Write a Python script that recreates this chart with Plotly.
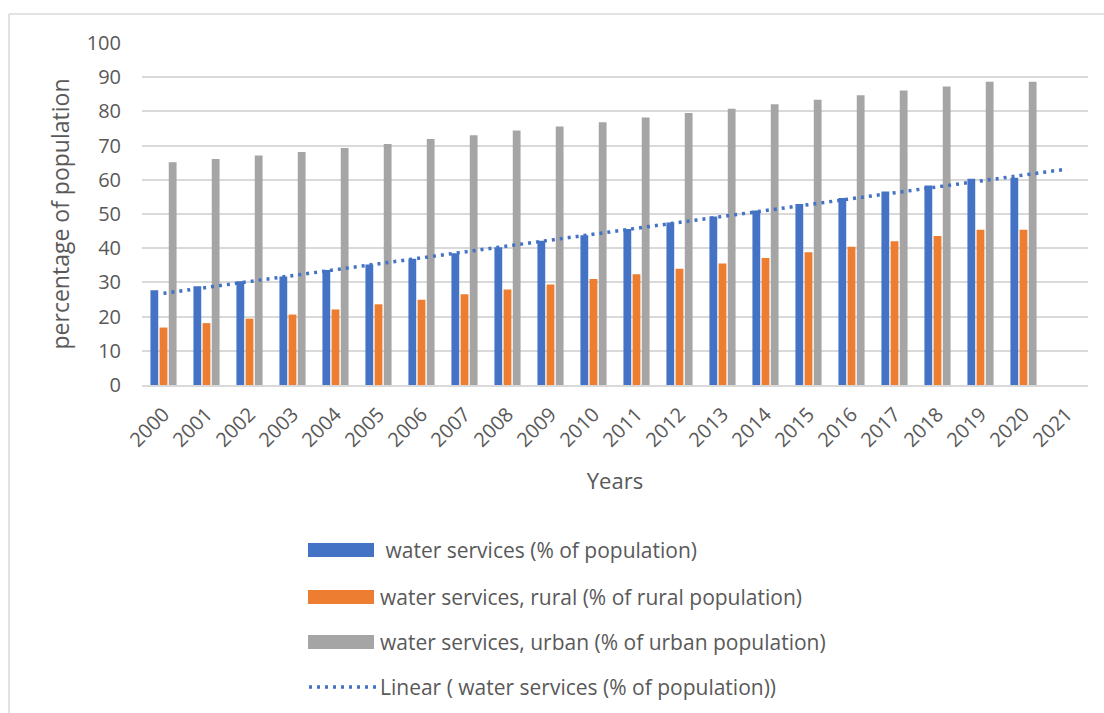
import numpy as np
import plotly.graph_objects as go

years = [str(y) for y in range(2000, 2022)]
total = [27.7, 28.9, 30.3, 31.7, 33.6, 35.2, 36.9, 38.5, 40.3, 42.2, 43.8,
         45.6, 47.5, 49.3, 51.0, 52.9, 54.7, 56.6, 58.3, 60.3, 60.6, None]
rural = [16.8, 18.1, 19.4, 20.6, 22.1, 23.6, 24.9, 26.5, 27.9, 29.4, 31.0,
         32.4, 34.0, 35.5, 37.1, 38.8, 40.4, 42.0, 43.6, 45.4, 45.4, None]
urban = [65.1, 66.1, 67.1, 68.1, 69.3, 70.5, 71.9, 73.0, 74.4, 75.6, 76.8,
         78.2, 79.5, 80.8, 82.1, 83.4, 84.7, 86.1, 87.3, 88.7, 88.7, None]
y_ticks = [0, 10, 20, 30, 40, 50, 60, 70, 80, 90, 100]

names = [" water services (% of population)",
         "water services, rural (% of rural population)",
         "water services, urban (% of urban population)",
         "Linear ( water services (% of population))"]
colors = ["#4472C4", "#ED7D31", "#A5A5A5"]

# linear trendline of the total series (Excel-style, over category index)
idx = np.array([i for i, v in enumerate(total) if v is not None])
vals = np.array([v for v in total if v is not None])
slope, icpt = np.polyfit(idx, vals, 1)
trend = [icpt + slope * i for i in range(len(years))]

TXT = "#595959"
FONT = "Open Sans"

fig = go.Figure()
for name, data, c in zip(names[:3], [total, rural, urban], colors):
    fig.add_trace(go.Bar(x=years, y=data, name=name, marker_color=c,
                         marker_line_width=0))
fig.add_trace(go.Scatter(x=years, y=trend, mode="lines", name=names[3],
                         line=dict(color="#4472C4", width=3.5, dash="3px,5px")))

W, H = 1104, 713
L, R, T, B = 142, 16, 43, 328
pw, ph = W - L - R, H - T - B


def px(x):
    return (x - L) / pw


def py(y):
    return (H - B - y) / ph


shapes = []
annotations = []
# chart border (top and left visible)
shapes.append(dict(type="line", xref="paper", yref="paper", x0=px(9), x1=px(1110),
                   y0=py(14), y1=py(14), line=dict(color="#D9D9D9", width=1.5)))
shapes.append(dict(type="line", xref="paper", yref="paper", x0=px(9), x1=px(9),
                   y0=py(14), y1=py(720), line=dict(color="#D9D9D9", width=1.5)))

# custom legend
leg_y = [550, 597, 642, 687]
for i in range(3):
    shapes.append(dict(type="rect", xref="paper", yref="paper",
                       x0=px(308), x1=px(374), y0=py(leg_y[i] - 7), y1=py(leg_y[i] + 7),
                       fillcolor=colors[i], line=dict(width=0)))
shapes.append(dict(type="line", xref="paper", yref="paper", x0=px(309), x1=px(376),
                   y0=py(leg_y[3]), y1=py(leg_y[3]),
                   line=dict(color="#4472C4", width=3.5, dash="3px,5px")))
for i in range(4):
    annotations.append(dict(text=names[i], xref="paper", yref="paper",
                            x=px(378), y=py(leg_y[i]), xanchor="left", yanchor="middle",
                            showarrow=False, font=dict(family=FONT, size=21, color=TXT)))

fig.update_layout(
    width=W, height=H,
    margin=dict(l=L, r=R, t=T, b=B, autoexpand=False),
    paper_bgcolor="white", plot_bgcolor="white",
    barmode="group", bargap=0.36, bargroupgap=0.15,
    showlegend=False,
    font=dict(family=FONT, color=TXT),
    shapes=shapes, annotations=annotations,
    xaxis=dict(type="category", categoryorder="array", categoryarray=years,
               tickangle=-45, tickfont=dict(family=FONT, size=20, color=TXT),
               ticklabelstandoff=8,
               showgrid=False, showline=True, linecolor="#D9D9D9", linewidth=1.5,
               title=dict(text="Years", font=dict(family=FONT, size=22, color=TXT),
                          standoff=22),
               automargin=False),
    yaxis=dict(range=[0, 100], tickvals=y_ticks, showgrid=True, gridcolor="#D9D9D9",
               gridwidth=1.5, zeroline=False, showline=False,
               tickfont=dict(family=FONT, size=20, color=TXT), ticklabelstandoff=20,
               title=dict(text="percentage of population",
                          font=dict(family=FONT, size=23, color=TXT), standoff=10),
               automargin=False),
)

fig.write_html("out.html")
